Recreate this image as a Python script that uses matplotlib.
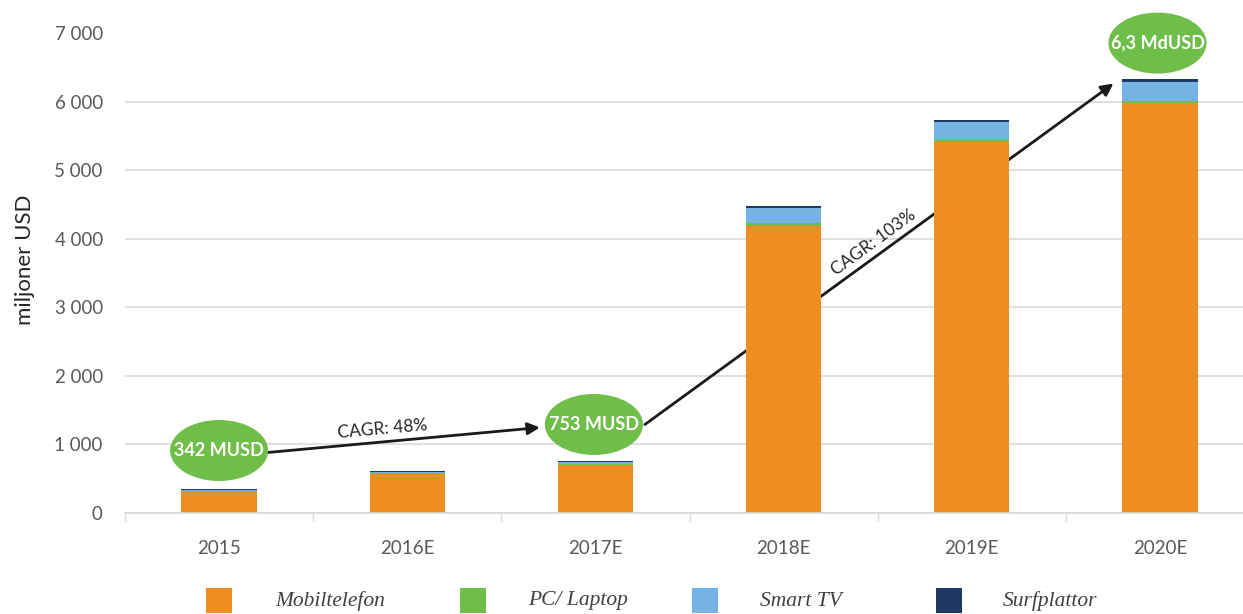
import matplotlib
matplotlib.use("Agg")
import matplotlib.pyplot as plt
from matplotlib.patches import Ellipse, Rectangle
import numpy as np

categories = ["2015", "2016E", "2017E", "2018E", "2019E", "2020E"]
mobiltelefon = [310, 560, 700, 4190, 5410, 5980]
pc_laptop = [10, 12, 15, 35, 30, 35]
smart_tv = [15, 20, 25, 230, 270, 280]
surfplattor = [7, 10, 13, 30, 30, 40]
series_names = ["Mobiltelefon", "PC/ Laptop", "Smart TV", "Surfplattor"]
series_colors = ["#EE8E22", "#6FBE4A", "#74B3E3", "#203864"]
yticks = [0, 1000, 2000, 3000, 4000, 5000, 6000, 7000]
ytick_labels = ["0", "1 000", "2 000", "3 000", "4 000", "5 000", "6 000", "7 000"]
bubble_labels = ["342 MUSD", "753 MUSD", "6,3 MdUSD"]
cagr_labels = ["CAGR: 48%", "CAGR: 103%"]

W, H = 1243, 614
fig = plt.figure(figsize=(W / 100, H / 100), dpi=100)
ax = fig.add_axes([125 / W, (H - 512.5) / H, (1254 - 125) / W, (512.5 - 33.5) / H])

sans = "Lato"
grey = "#595959"

x = np.arange(len(categories))
series = [mobiltelefon, pc_laptop, smart_tv, surfplattor]
bottom = np.zeros(len(categories))
for vals, col in zip(series, series_colors):
    ax.bar(x, vals, width=0.4, bottom=bottom, color=col, linewidth=0, zorder=3)
    bottom += np.array(vals)

ax.set_xlim(-0.5, len(categories) - 0.5)
ax.set_ylim(0, 7000)
ax.set_yticks(yticks)
ax.set_yticklabels(ytick_labels, fontfamily=sans, fontsize=13.5, color=grey)
ax.set_xticks(x)
ax.set_xticklabels(categories, fontfamily=sans, fontsize=13.5, color=grey)
ax.set_xticks(np.arange(-0.5, len(categories), 1.0), minor=True)
ax.tick_params(axis="x", which="major", length=0, pad=20)
ax.tick_params(axis="x", which="minor", length=6, color="#D9D9D9", width=1)
ax.tick_params(axis="y", length=0, pad=16)
ax.yaxis.grid(True, color="#D9D9D9", linewidth=1.2, zorder=0)
ax.set_axisbelow(True)
for s in ["top", "right", "left"]:
    ax.spines[s].set_visible(False)
ax.spines["bottom"].set_color("#D9D9D9")
ax.spines["bottom"].set_linewidth(1.2)
ax.spines["bottom"].set_zorder(4)

fig.text(25 / W, (H - 260) / H, "miljoner USD", rotation=90, fontfamily=sans,
         fontsize=16, color="#262626", ha="center", va="center")

# arrows (behind bars)
ax.annotate("", xy=(1.705, 1242), xytext=(0.258, 877),
            arrowprops=dict(arrowstyle="-|>", color="#1a1a1a", lw=2,
                            mutation_scale=18, shrinkA=0, shrinkB=0), zorder=2)
ax.annotate("", xy=(4.753, 6269), xytext=(2.263, 1286),
            arrowprops=dict(arrowstyle="-|>", color="#1a1a1a", lw=2,
                            mutation_scale=18, shrinkA=0, shrinkB=0), zorder=2)
ax.text(0.870, 1213, cagr_labels[0], rotation=5, fontfamily=sans, fontsize=12.5,
        color="#262626", ha="center", va="center", zorder=5)
ax.text(3.476, 3946, cagr_labels[1], rotation=36, fontfamily=sans, fontsize=12.5,
        color="#262626", ha="center", va="center", zorder=5)

# bubbles
bub_pos = [(0.0, 906), (1.992, 1286), (4.987, 6860)]
for (bx, by), lab in zip(bub_pos, bubble_labels):
    e = Ellipse((bx, by), width=98 / 188, height=61 * 7000 / 479,
                facecolor="#6FBE4A", edgecolor="none", zorder=6, clip_on=False)
    ax.add_patch(e)
    ax.text(bx, by, lab, fontfamily=sans, fontsize=13, fontweight="bold",
            color="white", ha="center", va="center", zorder=7)

# legend
leg_sq_x = [206, 460, 692, 936]
leg_tx_x = [275, 528, 760, 1003]
for name, col, sx, tx in zip(series_names, series_colors, leg_sq_x, leg_tx_x):
    fig.patches.append(Rectangle((sx / W, (H - 613) / H), 26 / W, 25 / H,
                                 transform=fig.transFigure, facecolor=col,
                                 edgecolor="none"))
    fig.text(tx / W, (H - 601) / H, name, fontfamily="Liberation Serif",
             style="italic", fontsize=15.5, color="#404040", ha="left", va="center")

fig.savefig("out.png", dpi=100)
